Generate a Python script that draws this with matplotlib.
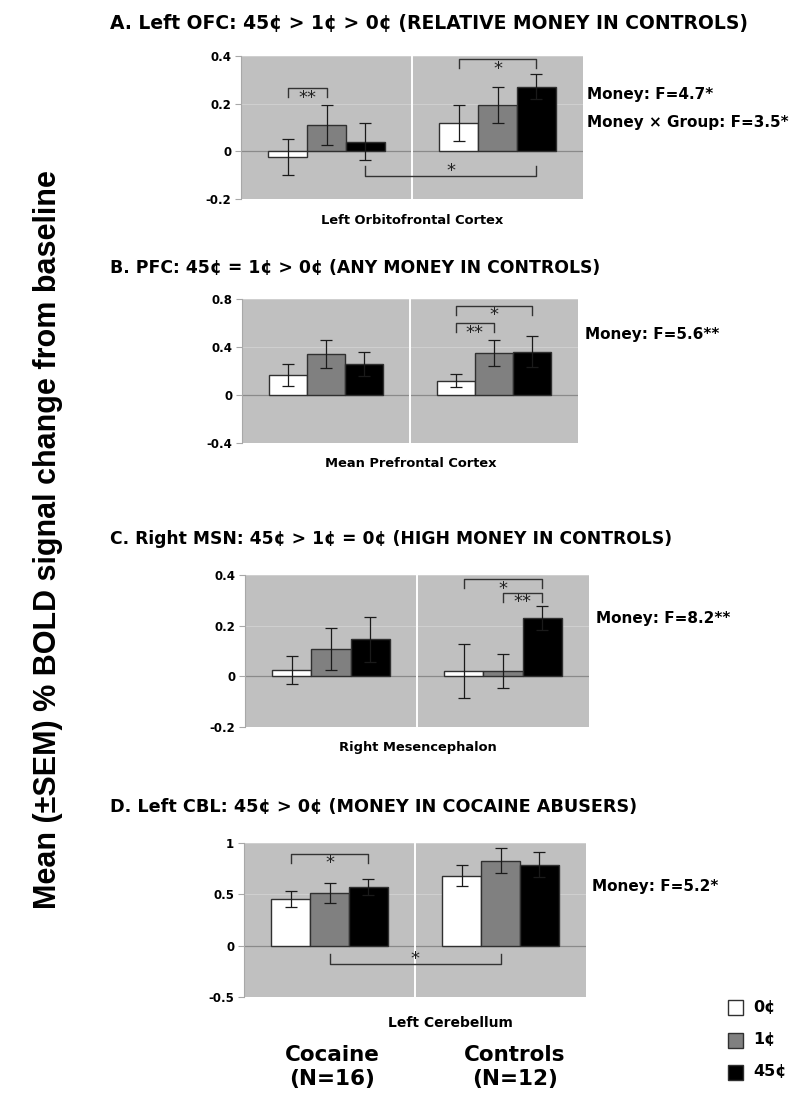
import matplotlib
matplotlib.use('Agg')
import matplotlib.pyplot as plt

plt.rcParams['font.family'] = ['DejaVu Sans']

# dados (media e erro padrao), ordem: 0c, 1c, 45c
grupos = ['Cocaine\n(N=16)', 'Controls\n(N=12)']
niveis = ['0¢', '1¢', '45¢']

titulos = ['A. Left OFC: 45¢ > 1¢ > 0¢ (RELATIVE MONEY IN CONTROLS)',
           'B. PFC: 45¢ = 1¢ > 0¢ (ANY MONEY IN CONTROLS)',
           'C. Right MSN: 45¢ > 1¢ = 0¢ (HIGH MONEY IN CONTROLS)',
           'D. Left CBL: 45¢ > 0¢ (MONEY IN COCAINE ABUSERS)']
regioes = ['Left Orbitofrontal Cortex', 'Mean Prefrontal Cortex',
           'Right Mesencephalon', 'Left Cerebellum']

media_A = [[-0.025, 0.11, 0.04], [0.12, 0.195, 0.272]]
erro_A = [[0.075, 0.083, 0.077], [0.075, 0.076, 0.053]]
media_B = [[0.165, 0.34, 0.26], [0.12, 0.35, 0.36]]
erro_B = [[0.09, 0.115, 0.1], [0.057, 0.107, 0.13]]
media_C = [[0.024, 0.108, 0.146], [0.02, 0.02, 0.23]]
erro_C = [[0.055, 0.082, 0.089], [0.106, 0.068, 0.046]]
media_D = [[0.457, 0.512, 0.571], [0.682, 0.828, 0.789]]
erro_D = [[0.078, 0.097, 0.078], [0.105, 0.124, 0.122]]

ylims = [(-0.2, 0.4), (-0.4, 0.8), (-0.2, 0.4), (-0.5, 1.0)]
yticks = [[-0.2, 0, 0.2, 0.4], [-0.4, 0, 0.4, 0.8], [-0.2, 0, 0.2, 0.4], [-0.5, 0, 0.5, 1]]
ytick_labels = [['-0.2', '0', '0.2', '0.4'], ['-0.4', '0', '0.4', '0.8'],
                ['-0.2', '0', '0.2', '0.4'], ['-0.5', '0', '0.5', '1']]

# colchetes de significancia: (grupo, barra) inicio, (grupo, barra) fim, altura, rotulo
colchetes_A = [((0, 0), (0, 1), 0.265, '**'), ((1, 0), (1, 2), 0.387, '*'), ((0, 2), (1, 2), -0.104, '*')]
colchetes_B = [((1, 0), (1, 2), 0.744, '*'), ((1, 0), (1, 1), 0.597, '**')]
colchetes_C = [((1, 0), (1, 2), 0.385, '*'), ((1, 1), (1, 2), 0.33, '**')]
colchetes_D = [((0, 0), (0, 2), 0.896, '*'), ((0, 1), (1, 1), -0.182, '*')]

estatisticas = [['Money: F=4.7*', 'Money × Group: F=3.5*'], ['Money: F=5.6**'],
                ['Money: F=8.2**'], ['Money: F=5.2*']]

medias = [media_A, media_B, media_C, media_D]
erros = [erro_A, erro_B, erro_C, erro_D]
colchetes = [colchetes_A, colchetes_B, colchetes_C, colchetes_D]

cores = ['white', '#808080', 'black']
cor_fundo = '#c0c0c0'

W, H = 800, 1103
# caixas dos eixos em pixels (x0, y0, x1, y1)
caixas = [(241, 56, 583, 199), (242, 299, 578, 443), (245, 575, 589, 727), (244, 843, 586, 997)]
titulo_y = [24, 268, 539, 807]
titulo_fs = [13.5, 12.4, 12.3, 12.7]
regiao_y = [220, 464, 748, 1023]
regiao_x = [412, 411, 418, 450]
regiao_fs = [9.4, 9.4, 9.4, 10]
stat_x = [587, 585, 596, 592]
stat_y = [[95, 122], [335], [618], [886]]

fig = plt.figure(figsize=(W / 100, H / 100), dpi=100)

largura = 0.227

for p in range(4):
    x0, y0, x1, y1 = caixas[p]
    ax = fig.add_axes([x0 / W, 1 - y1 / H, (x1 - x0) / W, (y1 - y0) / H])
    ax.set_facecolor(cor_fundo)
    ax.set_xlim(-0.5, 1.5)
    ax.set_ylim(*ylims[p])
    for t in yticks[p]:
        if t != 0:
            ax.axhline(t, color='#d2d2d2', lw=0.6, zorder=0.5)
    ax.axhline(0, color='#8a8a8a', lw=0.9, zorder=1)
    ax.axvline(0.5, color='white', lw=1.4, zorder=1)

    for g in range(2):
        for b in range(3):
            xc = g + (b - 1) * largura
            ax.bar(xc, medias[p][g][b], width=largura, color=cores[b],
                   edgecolor='#303030', linewidth=1, zorder=2)
            ax.errorbar(xc, medias[p][g][b], yerr=erros[p][g][b], color='#1a1a1a',
                        capsize=4, elinewidth=0.9, capthick=0.9, zorder=3)

    altura_px = y1 - y0
    faixa = ylims[p][1] - ylims[p][0]
    for (ga, ba), (gb, bb), yb, rot in colchetes[p]:
        xa = ga + (ba - 1) * largura
        xb = gb + (bb - 1) * largura
        if yb > 0:
            d = -9 / altura_px * faixa
            ax.annotate(rot, xy=((xa + xb) / 2, yb), xytext=(0, -7), textcoords='offset points',
                        ha='center', va='center', fontsize=13, color='#222222', zorder=5)
        else:
            d = 10 / altura_px * faixa
            ax.annotate(rot, xy=((xa + xb) / 2, yb), xytext=(0, 4), textcoords='offset points',
                        ha='center', va='center', fontsize=13, color='#222222', zorder=5)
        ax.plot([xa, xa, xb, xb], [yb + d, yb, yb, yb + d], color='#333333', lw=1,
                clip_on=False, zorder=4)

    ax.set_xticks([])
    ax.set_yticks(yticks[p])
    ax.set_yticklabels(ytick_labels[p], fontsize=8.5, fontweight='bold')
    for s in ['top', 'right', 'bottom']:
        ax.spines[s].set_visible(False)
    ax.spines['left'].set_color('#a8a8a8')
    ax.spines['left'].set_linewidth(0.8)
    ax.tick_params(axis='y', direction='out', length=4, color='#a8a8a8', pad=3)

    fig.text(110 / W, 1 - titulo_y[p] / H, titulos[p], fontsize=titulo_fs[p], fontweight='bold',
             ha='left', va='center')
    fig.text(regiao_x[p] / W, 1 - regiao_y[p] / H, regioes[p], fontsize=regiao_fs[p],
             fontweight='bold', ha='center', va='center')
    for texto, ys in zip(estatisticas[p], stat_y[p]):
        fig.text(stat_x[p] / W, 1 - ys / H, texto, fontsize=11, fontweight='bold',
                 ha='left', va='center')

# rotulos dos grupos embaixo
for g, xg in enumerate([332, 515]):
    fig.text(xg / W, 1 - 1067 / H, grupos[g], fontsize=15.5, fontweight='bold',
             ha='center', va='center', linespacing=1.2)

# legenda feita na mao
for b, ly in enumerate([1007, 1040, 1072]):
    fig.patches.append(plt.Rectangle((728 / W, 1 - (ly + 7.5) / H), 15 / W, 15 / H,
                                     facecolor=cores[b], edgecolor='#303030', lw=1,
                                     transform=fig.transFigure, figure=fig))
    fig.text(753 / W, 1 - ly / H, niveis[b], fontsize=11.5, fontweight='bold',
             ha='left', va='center')

fig.text(48 / W, 1 - 540 / H, 'Mean (±SEM) % BOLD signal change from baseline',
         fontsize=22, fontweight='bold', rotation=90, ha='center', va='center',
         family=['Liberation Sans', 'DejaVu Sans'])

plt.savefig('out.png', dpi=100)
